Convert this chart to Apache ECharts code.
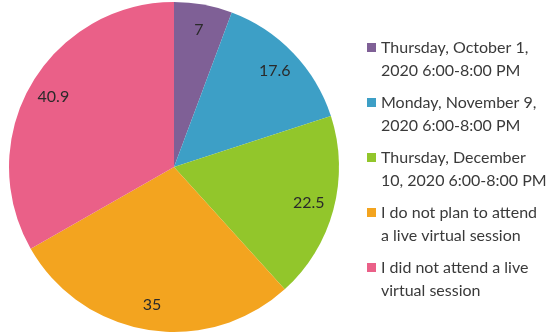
<!DOCTYPE html>
<html>
<head>
<meta charset="utf-8">
<script src="https://cdn.jsdelivr.net/npm/echarts@6/dist/echarts.min.js"></script>
<style>
  html, body { margin: 0; padding: 0; background: #ffffff; }
  #chart { width: 550px; height: 336px; }
</style>
</head>
<body>
<div id="chart"></div>
<script>
// Session attendance responses
const categories = [
  'Thursday, October 1,\n2020 6:00-8:00 PM',
  'Monday, November 9,\n2020 6:00-8:00 PM',
  'Thursday, December\n10, 2020 6:00-8:00 PM',
  'I do not plan to attend\na live virtual session',
  'I did not attend a live\nvirtual session'
];
const values = [7, 17.6, 22.5, 35, 40.9];
const colors = ['#7f6096', '#3d9fc6', '#92c62b', '#f3a41f', '#ea6088'];

const chart = echarts.init(document.getElementById('chart'));

const slices = categories.map((name, i) => ({
  name: name,
  value: values[i],
  itemStyle: { color: colors[i] }
}));

chart.setOption({
  animation: false,
  legend: {
    orient: 'vertical',
    left: 367,
    top: 13,
    padding: 0,
    itemWidth: 9,
    itemHeight: 9,
    itemGap: -14,
    textGap: 3,
    icon: 'rect',
    selectedMode: false,
    data: categories,
    // a leading empty line keeps the square beside the first text line
    formatter: name => '\n' + name,
    textStyle: {
      fontFamily: 'Lato',
      fontSize: 16,
      lineHeight: 23,
      color: '#3a3a3a'
    }
  },
  series: [
    {
      type: 'pie',
      center: [174, 167],
      radius: [0, 165],
      startAngle: 90,
      clockwise: true,
      silent: true,
      label: { show: false },
      labelLine: { show: false },
      data: slices
    },
    {
      // transparent ring that carries the value labels near the rim
      type: 'pie',
      center: [174, 167],
      radius: [108, 165],
      startAngle: 90,
      clockwise: true,
      silent: true,
      legendHoverLink: false,
      itemStyle: { color: 'rgba(0,0,0,0)' },
      label: {
        show: true,
        position: 'inside',
        formatter: p => String(p.value),
        fontFamily: 'Lato',
        fontSize: 16,
        color: '#2a2a2a'
      },
      labelLine: { show: false },
      data: categories.map((name, i) => ({ name: name, value: values[i] }))
    }
  ]
});
</script>
</body>
</html>
